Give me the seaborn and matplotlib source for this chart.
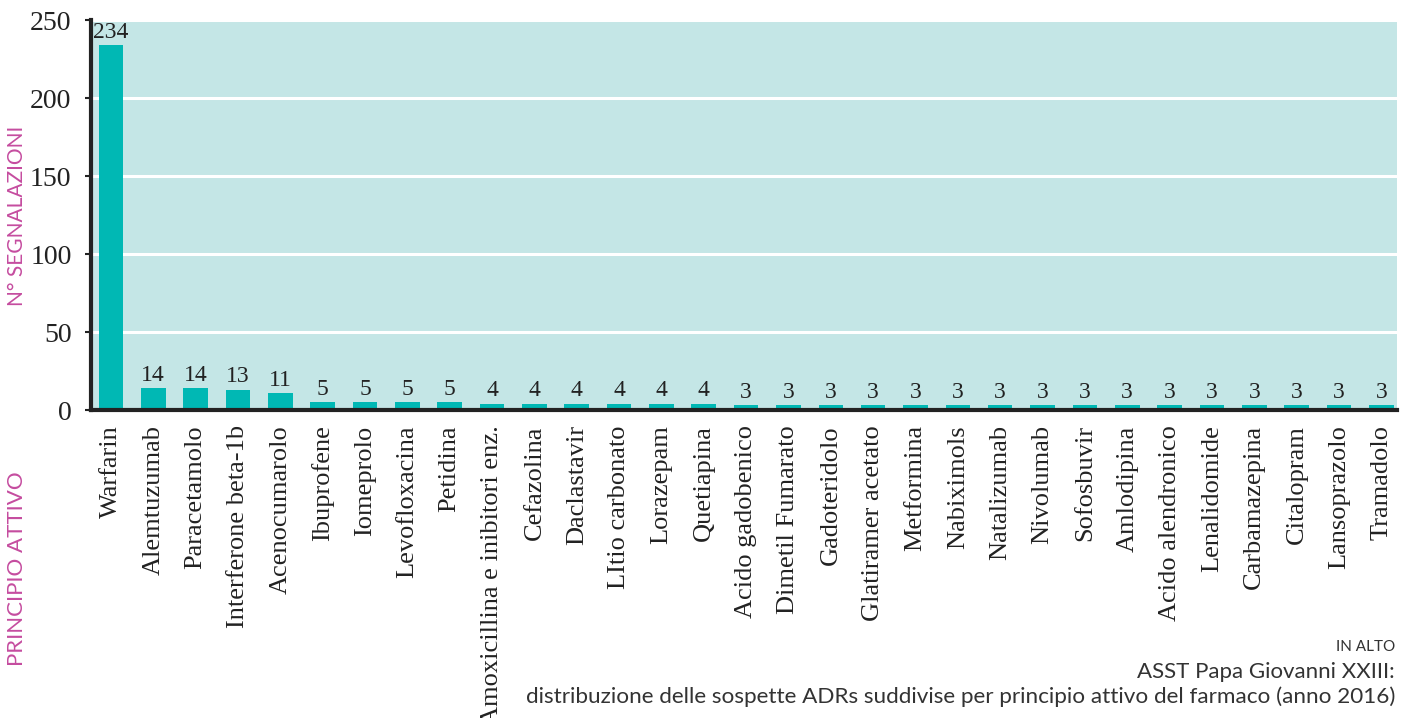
import matplotlib
matplotlib.use("Agg")
import matplotlib.pyplot as plt
import seaborn as sns
import pandas as pd

# data
farmaci = [
    "Warfarin", "Alemtuzumab", "Paracetamolo", "Interferone beta-1b", "Acenocumarolo",
    "Ibuprofene", "Iomeprolo", "Levofloxacina", "Petidina", "Amoxicillina e inibitori enz.",
    "Cefazolina", "Daclastavir", "LItio carbonato", "Lorazepam", "Quetiapina",
    "Acido gadobenico", "Dimetil Fumarato", "Gadoteridolo", "Glatiramer acetato", "Metformina",
    "Nabiximols", "Natalizumab", "Nivolumab", "Sofosbuvir", "Amlodipina",
    "Acido alendronico", "Lenalidomide", "Carbamazepina", "Citalopram", "Lansoprazolo",
    "Tramadolo",
]
segnalazioni = [234, 14, 14, 13, 11, 5, 5, 5, 5, 4, 4, 4, 4, 4, 4,
                3, 3, 3, 3, 3, 3, 3, 3, 3, 3, 3, 3, 3, 3, 3, 3]
y_ticks = [0, 50, 100, 150, 200, 250]

BAR = "#00B8B4"
BG = "#C4E6E6"
MAGENTA = "#C54C9F"
SERIF = ["Liberation Serif", "DejaVu Serif"]
SANS = ["Lato", "DejaVu Sans"]

sns.set_theme(style="white")
plt.rcParams["font.family"] = SERIF

df = pd.DataFrame({"farmaco": farmaci, "n": segnalazioni})

fig = plt.figure(figsize=(14.11, 7.18), dpi=100)
ax = fig.add_axes([91 / 1411, 1 - 410 / 718, (1397 - 91) / 1411, 390 / 718])
ax.set_facecolor(BG)

sns.barplot(data=df, x="farmaco", y="n", color=BAR, width=0.58,
            saturation=1, linewidth=0, ax=ax, zorder=3)

ax.set_ylim(0, 250)
ax.set_xlim(-0.47, len(farmaci) - 0.63)
ax.set_yticks(y_ticks)
ax.set_yticklabels([str(t) for t in y_ticks], fontsize=20, color="#222222")
ax.yaxis.grid(True, color="white", linewidth=2.2, zorder=1)
ax.set_axisbelow(True)

ax.set_xticks(range(len(farmaci)))
ax.set_xticklabels(farmaci, rotation=90, fontsize=19, color="#222222",
                   va="top", ha="center")
ax.tick_params(axis="x", length=0, pad=11)
ax.tick_params(axis="y", length=4, width=1.5, color="#222222", pad=10, left=True)

for s in ["top", "right"]:
    ax.spines[s].set_visible(False)
for s in ["left", "bottom"]:
    ax.spines[s].set_color("#222222")
    ax.spines[s].set_linewidth(3)
    ax.spines[s].set_zorder(5)

ax.set_xlabel("")
ax.set_ylabel("")

for i, v in enumerate(segnalazioni):
    ax.text(i, v + 1.5, str(v), ha="center", va="bottom", fontsize=17,
            color="#222222", zorder=6)

# axis titles in magenta, placed at the far left
fig.text(17 / 1411, 1 - 216 / 718, "N° SEGNALAZIONI", rotation=90, color=MAGENTA,
         fontsize=15, family=SANS, ha="center", va="center")
fig.text(17 / 1411, 1 - 569 / 718, "PRINCIPIO ATTIVO", rotation=90, color=MAGENTA,
         fontsize=16, family=SANS, ha="center", va="center")

# caption at bottom right
fig.text(1395 / 1411, 1 - 647 / 718, "IN ALTO", ha="right", va="center",
         fontsize=11, family=SANS, color="#333333")
fig.text(1395 / 1411, 1 - 672 / 718, "ASST Papa Giovanni XXIII:", ha="right",
         va="center", fontsize=16, family=SANS, color="#333333")
fig.text(1395 / 1411, 1 - 697 / 718,
         "distribuzione delle sospette ADRs suddivise per principio attivo del farmaco (anno 2016)",
         ha="right", va="center", fontsize=16.2, family=SANS, color="#333333")

fig.savefig("out.png", dpi=100)
